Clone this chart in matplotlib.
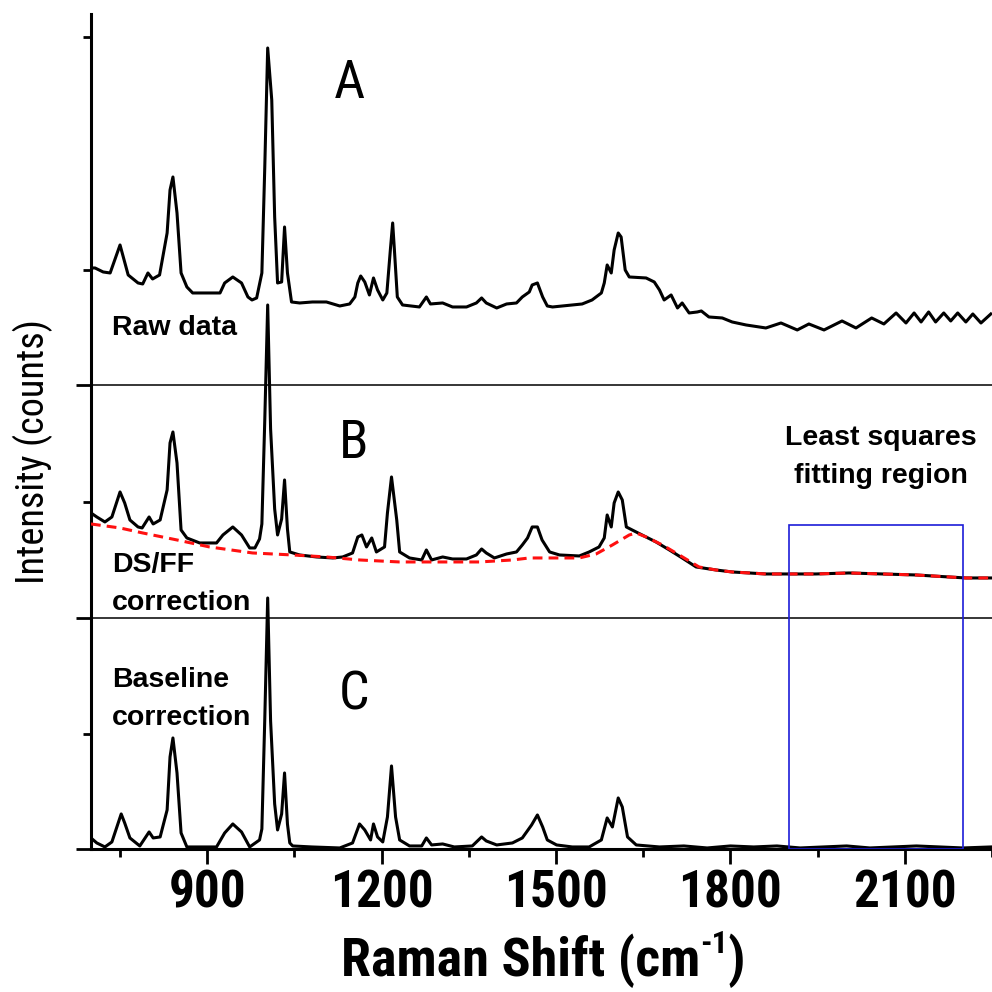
import matplotlib
matplotlib.use("Agg")
import matplotlib.pyplot as plt
from matplotlib import font_manager
from matplotlib.font_manager import FontProperties
from matplotlib.patches import Rectangle

# ---- fonts: look for a narrow/condensed sans face, otherwise fall back to Liberation Sans ----
PREF = ["Liberation Sans Narrow", "Arial Narrow", "Roboto Condensed", "DejaVu Sans",
        "Open Sans Condensed", "Noto Sans", "Open Sans", "Roboto"]


def _wt(f):
    w = f.weight
    if isinstance(w, str):
        w = {"bold": 700, "semibold": 600, "demibold": 600, "heavy": 800, "black": 900,
             "light": 300, "medium": 500}.get(w.lower(), 400)
    return w


def narrow_font(bold):
    best = None
    for f in font_manager.fontManager.ttflist:
        low = f.name.lower()
        narrow = "narrow" in low or "condensed" in low or f.stretch in ("condensed", "semi-condensed")
        if not narrow or "mono" in low or "serif" in low.replace("sans serif", "") or f.style != "normal":
            continue
        w = _wt(f)
        if bold and not 650 <= w <= 750:
            continue
        if not bold and not 380 <= w <= 420:
            continue
        rank = PREF.index(f.name) if f.name in PREF else len(PREF)
        if best is None or rank < best[0]:
            best = (rank, f.fname)
    return best[1] if best else None


_nb, _nr = narrow_font(True), narrow_font(False)


def nfont(size, bold):
    path = _nb if bold else _nr
    if path:
        return FontProperties(fname=path, size=size)
    return FontProperties(family="Liberation Sans", weight="bold" if bold else "normal", size=size * 0.82)


plt.rcParams["font.family"] = ["Liberation Sans", "DejaVu Sans"]

# ---- data (wavenumber in cm-1, intensity in arbitrary counts) ----
# A: raw spectrum
wn_a = [700, 707, 721, 733, 750, 764, 781, 789, 798, 806, 818, 831, 836, 841, 848, 855, 865, 875, 922, 930,
        944, 959, 970, 977, 985, 994, 999, 1004, 1011, 1016, 1021, 1028, 1033, 1038, 1045, 1059, 1081, 1105, 1128, 1145,
        1154, 1159, 1164, 1171, 1179, 1186, 1193, 1202, 1209, 1215, 1219, 1222, 1227, 1236, 1265, 1277, 1284, 1305, 1322, 1346,
        1363, 1372, 1380, 1398, 1415, 1432, 1442, 1454, 1459, 1468, 1477, 1485, 1494, 1545, 1562, 1578, 1583, 1588, 1595, 1600,
        1607, 1612, 1619, 1626, 1655, 1669, 1678, 1686, 1698, 1709, 1717, 1729, 1743, 1750, 1763, 1786, 1803, 1827, 1861, 1887,
        1915, 1935, 1961, 1992, 2016, 2043, 2064, 2085, 2102, 2116, 2128, 2141, 2153, 2167, 2179, 2191, 2205, 2217, 2231, 2248]
int_a = [581, 581, 577, 576, 604, 574, 566, 565, 576, 570, 574, 616, 659, 672, 636, 576, 562, 556, 556, 566,
         572, 566, 552, 549, 551, 576, 682, 801, 749, 632, 566, 567, 622, 576, 547, 546, 547, 547, 543, 545,
         552, 566, 573, 567, 554, 571, 559, 549, 556, 599, 626, 599, 552, 544, 542, 552, 545, 546, 542, 542,
         546, 551, 546, 541, 545, 546, 552, 557, 564, 566, 552, 543, 542, 545, 549, 556, 566, 584, 576, 599,
         616, 612, 579, 572, 571, 567, 559, 549, 554, 541, 546, 536, 537, 538, 532, 531, 527, 524, 521, 526,
         519, 525, 519, 528, 521, 531, 525, 536, 526, 536, 527, 537, 527, 536, 528, 536, 527, 535, 526, 535]

# B: after dark-signal / flat-field correction
wn_b = [700, 710, 724, 736, 750, 758, 767, 781, 788, 800, 807, 819, 831, 836, 841, 848, 855, 865, 887, 916,
        927, 944, 959, 973, 982, 990, 994, 999, 1004, 1009, 1016, 1021, 1028, 1033, 1038, 1042, 1059, 1088, 1116, 1133,
        1150, 1159, 1166, 1174, 1183, 1191, 1205, 1210, 1217, 1226, 1231, 1248, 1269, 1277, 1286, 1305, 1322, 1346, 1363, 1372,
        1380, 1394, 1415, 1432, 1442, 1451, 1459, 1468, 1476, 1489, 1506, 1540, 1557, 1574, 1583, 1588, 1595, 1600, 1607, 1614,
        1621, 1631, 1648, 1672, 1695, 1717, 1741, 1775, 1803, 1832, 1861, 1906, 1947, 2004, 2061, 2119, 2176, 2205, 2248]
int_b = [336, 332, 327, 332, 357, 346, 329, 322, 321, 332, 325, 329, 359, 406, 417, 386, 319, 311, 306, 306,
         314, 322, 314, 301, 301, 310, 325, 429, 544, 420, 340, 314, 330, 369, 320, 297, 294, 292, 291, 292,
         296, 312, 314, 302, 311, 297, 302, 336, 372, 329, 297, 291, 289, 299, 289, 292, 290, 290, 294, 300,
         296, 291, 295, 297, 304, 311, 322, 322, 309, 297, 294, 293, 297, 302, 311, 334, 322, 346, 357, 349,
         322, 319, 314, 307, 299, 291, 282, 279, 277, 276, 275, 275, 275, 276, 275, 274, 272, 271, 271]

# fitted background under B (red dashed)
wn_bg = [700, 750, 789, 848, 904, 978, 1047, 1105, 1162, 1231, 1282, 1368, 1425, 1454, 1540, 1569, 1597, 1626,
         1638, 1655, 1683, 1712, 1746, 1775, 1803, 1832, 1861, 1906, 1947, 2004, 2061, 2119, 2176, 2205, 2248]
int_bg = [325, 321, 316, 309, 302, 296, 294, 292, 289, 287, 287, 287, 289, 291, 291, 295, 304, 314,
          316, 312, 304, 294, 282, 279, 277, 276, 275, 275, 275, 276, 275, 274, 272, 271, 271]

# C: baseline corrected
wn_c = [700, 710, 724, 736, 752, 758, 767, 784, 800, 807, 819, 831, 836, 841, 848, 855, 865, 916, 930, 944,
        959, 973, 990, 994, 999, 1004, 1009, 1016, 1021, 1028, 1033, 1038, 1042, 1047, 1080, 1128, 1150, 1162, 1171, 1181,
        1186, 1193, 1202, 1210, 1217, 1224, 1231, 1248, 1269, 1277, 1286, 1305, 1325, 1356, 1372, 1380, 1398, 1425, 1442, 1458,
        1468, 1477, 1485, 1501, 1528, 1557, 1578, 1588, 1597, 1607, 1614, 1623, 1638, 1678, 1720, 1760, 1800, 1840, 1880, 1920,
        1960, 2000, 2040, 2080, 2120, 2160, 2200, 2248]
int_c = [11, 6, 2, 7, 35, 26, 11, 3, 17, 11, 12, 39, 92, 111, 76, 16, 2, 2, 16, 25,
         17, 2, 9, 20, 130, 251, 128, 45, 19, 35, 76, 25, 6, 3, 2, 1, 6, 25, 19, 9,
         25, 12, 7, 32, 83, 32, 9, 3, 3, 11, 4, 5, 2, 3, 12, 8, 4, 6, 11, 24,
         34, 22, 9, 4, 2, 2, 9, 31, 22, 51, 42, 12, 4, 2, 3, 1, 3, 2, 3, 1,
         2, 3, 1, 2, 3, 2, 1, 2]

PANEL_SPLITS = [231, 464]          # thin lines separating C | B | A
FIT_LO, FIT_HI, FIT_TOP = 1900, 2200, 324   # least squares fitting window
X_MAJOR = [900, 1200, 1500, 1800, 2100]
X_MINOR = [750, 1050, 1350, 1650, 1950, 2250]
Y_MAJOR = [0, 231, 464]
Y_MINOR = [115, 347, 579, 812]

# ---- figure ----
fig = plt.figure(figsize=(9.92, 9.92), dpi=100)
ax = fig.add_axes([0.0917, 0.1442, 0.9083, 0.8417])

LW = 2.2
ax.plot(wn_a, int_a, color="black", lw=LW)
ax.plot(wn_b, int_b, color="black", lw=LW)
ax.plot(wn_bg, int_bg, color="#ff1010", lw=LW, dashes=(3.2, 2.0), zorder=3)
ax.plot(wn_c, int_c, color="black", lw=LW)
for y in PANEL_SPLITS:
    ax.axhline(y, color="black", lw=1.1)
ax.add_patch(Rectangle((FIT_LO, 0), FIT_HI - FIT_LO, FIT_TOP, fill=False, ec="#1c1cd8", lw=1.2, zorder=4))

ax.set_xlim(700, 2250)
ax.set_ylim(0, 835)
for s in ("top", "right"):
    ax.spines[s].set_visible(False)
for s in ("left", "bottom"):
    ax.spines[s].set_linewidth(2.2)

ax.set_xticks(X_MAJOR)
ax.set_xticks(X_MINOR, minor=True)
ax.set_yticks(Y_MAJOR)
ax.set_yticks(Y_MINOR, minor=True)
ax.set_yticklabels([])
ax.tick_params(which="major", direction="out", length=11, width=2, pad=3)
ax.tick_params(which="minor", direction="out", length=6, width=2)
for lab in ax.get_xticklabels():
    lab.set_fontproperties(nfont(37, True))

# panel letters
for letter, x, y in (("A", 1145, 751), ("B", 1152, 391), ("C", 1152, 139)):
    ax.text(x, y, letter, fontproperties=nfont(39, False), ha="center", va="baseline")

# notes (va="baseline" of a two-line text sits on its last line)
note = dict(fontsize=20.5, fontweight="bold", va="baseline", linespacing=1.6)
ax.text(736, 514, "Raw data", ha="left", **note)
ax.text(736, 239, "DS/FF\ncorrection", ha="left", **note)
ax.text(736, 124, "Baseline\ncorrection", ha="left", **note)
ax.text(2059, 366, "Least squares\nfitting region", ha="center", multialignment="center", **note)

# axis titles; the x title is built from pieces so the superscript keeps the narrow face
y_base = 1 - 976 / 992
t1 = fig.text(0, y_base, "Raman Shift (cm", fontproperties=nfont(39, True), va="baseline")
t2 = fig.text(0, y_base, "-1", fontproperties=nfont(23, True), va="baseline")
t3 = fig.text(0, y_base, ")", fontproperties=nfont(39, True), va="baseline")
fig.canvas.draw()
r = fig.canvas.get_renderer()
W = fig.bbox.width
w1, w2, w3 = (t.get_window_extent(r).width / W for t in (t1, t2, t3))
x0 = 543 / 992 - (w1 + w2 + w3) / 2
t1.set_x(x0)
t2.set_position((x0 + w1, y_base + 23 / 992))
t3.set_x(x0 + w1 + w2)

fig.text(33 / 992, 1 - 452 / 992, "Intensity (counts)", fontproperties=nfont(27.5, False),
         rotation=90, ha="center", va="center")

fig.savefig("out.png", dpi=100, facecolor="white")
